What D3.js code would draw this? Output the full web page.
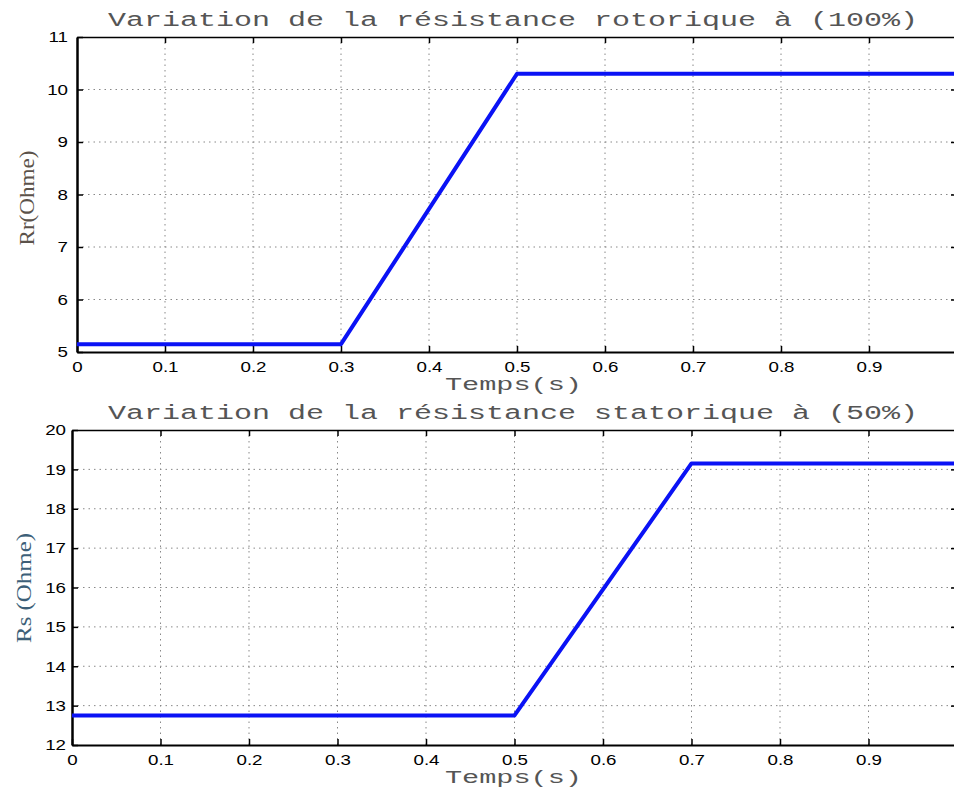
<!DOCTYPE html>
<html>
<head>
<meta charset="utf-8">
<script src="https://cdn.jsdelivr.net/npm/d3@7"></script>
<style>
  body { margin: 0; background: #fff; }
  .grid line { stroke: #888; stroke-dasharray: 1.5 4; }
</style>
</head>
<body>
<div class="plot-container"></div>
<script>
// time breakpoints (s) and resistance values
const rrTime = [0, 0.3, 0.5, 1.0];
const rrValues = [5.15, 5.15, 10.3, 10.3];
const rsTime = [0, 0.5, 0.7, 1.0];
const rsValues = [12.75, 12.75, 19.15, 19.15];

const xTicks = [0, 0.1, 0.2, 0.3, 0.4, 0.5, 0.6, 0.7, 0.8, 0.9];
const rrTicks = [5, 6, 7, 8, 9, 10, 11];
const rsTicks = [12, 13, 14, 15, 16, 17, 18, 19, 20];

const tickFont = "'Liberation Sans', Arial, sans-serif";
const monoFont = "'Liberation Mono', 'Courier New', monospace";
const stretch = 1.25; // tick labels in the picture are wide

const svg = d3.select('.plot-container').append('svg')
  .attr('width', 954).attr('height', 787);

function styleTicks(sel){
  sel.attr('font-family', tickFont).attr('font-size', 15);
  sel.selectAll('.tick line').attr('stroke-width', 1.5);
  sel.selectAll('.tick text').attr('fill', '#000');
}

function drawPanel(opt){
  const g = svg.append('g');
  const xScale = d3.scaleLinear().domain([0, 1]).range([opt.left, 957]);
  const yScale = d3.scaleLinear().domain(opt.yDomain).range([opt.bottom, opt.top]);

  // grid
  const grid = g.append('g').attr('class', 'grid');
  grid.selectAll('.vx').data(xTicks.slice(1)).enter().append('line')
    .attr('x1', d => xScale(d)).attr('x2', d => xScale(d))
    .attr('y1', opt.top).attr('y2', opt.bottom);
  grid.selectAll('.hy').data(opt.yTicks.slice(1, -1)).enter().append('line')
    .attr('x1', opt.left).attr('x2', 957)
    .attr('y1', d => yScale(d)).attr('y2', d => yScale(d));

  // axes, MATLAB style inward ticks
  const xAxis = d3.axisBottom(xScale).tickValues(xTicks)
    .tickFormat(d3.format('')).tickSizeInner(-6).tickSizeOuter(0).tickPadding(10);
  const xg = g.append('g').attr('transform', `translate(0,${opt.bottom})`).call(xAxis).call(styleTicks);
  xg.select('.domain').attr('stroke', '#000').attr('stroke-width', 2);
  xg.selectAll('.tick text').attr('y', 9).attr('dy', '0.71em')
    .attr('transform', `scale(${stretch},1)`);

  const xTop = d3.axisTop(xScale).tickValues(xTicks.slice(1))
    .tickFormat('').tickSizeInner(-6).tickSizeOuter(0);
  const xt = g.append('g').attr('transform', `translate(0,${opt.top})`).call(xTop).call(styleTicks);
  xt.select('.domain').attr('stroke', '#000').attr('stroke-width', 1.5);

  const yAxis = d3.axisLeft(yScale).tickValues(opt.yTicks)
    .tickFormat(d3.format('d')).tickSizeInner(-6).tickSizeOuter(0);
  const yg = g.append('g').attr('transform', `translate(${opt.left},0)`).call(yAxis).call(styleTicks);
  yg.select('.domain').attr('stroke', '#000').attr('stroke-width', 2.5);
  yg.selectAll('.tick text').attr('x', -opt.yPad / stretch)
    .attr('transform', `scale(${stretch},1)`);

  const yRight = d3.axisRight(yScale).tickValues(opt.yTicks.slice(1, -1))
    .tickFormat('').tickSizeInner(-6).tickSizeOuter(0);
  g.append('g').attr('transform', 'translate(957,0)').call(yRight).call(styleTicks);

  // curve
  const line = d3.line().x(d => xScale(d[0])).y(d => yScale(d[1]));
  g.append('path')
    .datum(opt.time.map((t, i) => [t, opt.values[i]]))
    .attr('d', line)
    .attr('fill', 'none')
    .attr('stroke', '#0a12f5')
    .attr('stroke-width', 4)
    .attr('stroke-linejoin', 'round');

  // texts
  g.append('text').text(opt.title)
    .attr('x', 108).attr('y', opt.top - 11)
    .attr('textLength', 810).attr('lengthAdjust', 'spacingAndGlyphs')
    .style('font-family', monoFont)
    .style('font-size', '20px').style('fill', '#555');

  g.append('text').text('Temps(s)')
    .attr('x', 445).attr('y', opt.bottom + 38)
    .attr('textLength', 137).attr('lengthAdjust', 'spacingAndGlyphs')
    .style('font-family', monoFont)
    .style('font-size', '18px').style('fill', '#555');

  g.append('text').text(opt.ylabel)
    .attr('transform', `translate(${opt.ylabelX},${opt.ylabelY}) rotate(-90)`)
    .attr('text-anchor', 'middle')
    .attr('textLength', opt.ylabelLen).attr('lengthAdjust', 'spacingAndGlyphs')
    .style('font-family', "'Liberation Serif', 'Times New Roman', serif")
    .style('font-size', '21px').style('fill', opt.ylabelColor);
}

drawPanel({
  left: 77, top: 37, bottom: 352, yPad: 9,
  yDomain: [5, 11], yTicks: rrTicks,
  time: rrTime, values: rrValues,
  title: 'Variation de la résistance rotorique à (100%)',
  ylabel: 'Rr(Ohme)', ylabelX: 34, ylabelY: 198, ylabelLen: 95, ylabelColor: '#5b524a'
});

drawPanel({
  left: 72, top: 430, bottom: 745, yPad: 6,
  yDomain: [12, 20], yTicks: rsTicks,
  time: rsTime, values: rsValues,
  title: 'Variation de la résistance statorique à (50%)',
  ylabel: 'Rs (Ohme)', ylabelX: 31, ylabelY: 588, ylabelLen: 110, ylabelColor: '#3d5f78'
});
</script>
</body>
</html>
